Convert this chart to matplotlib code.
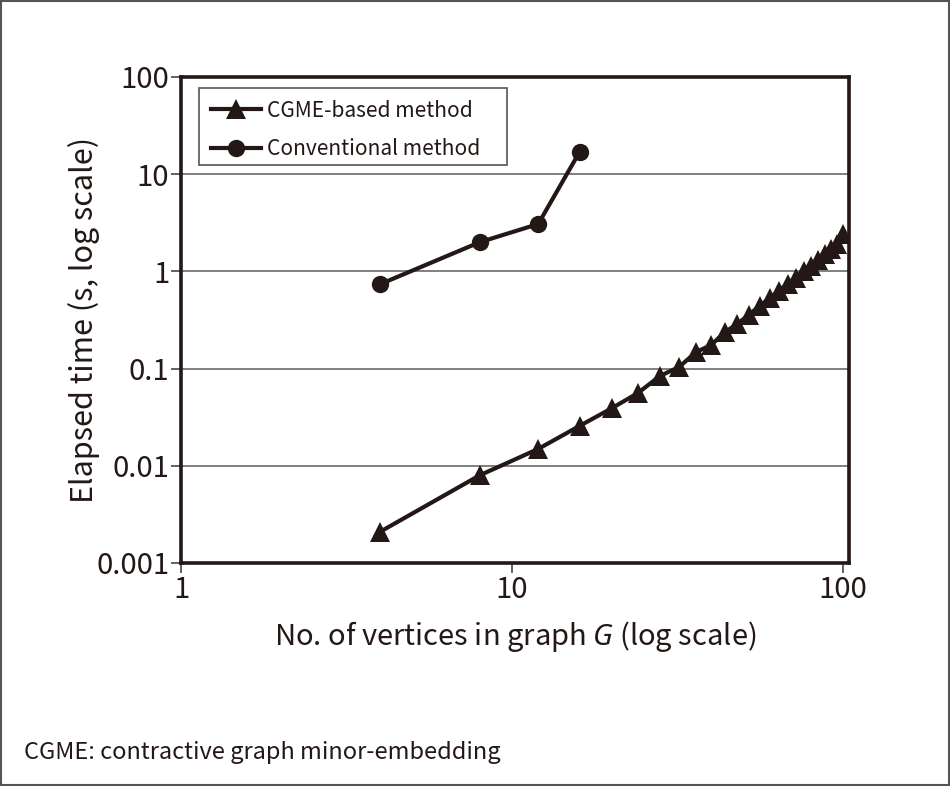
import matplotlib
matplotlib.use("Agg")
import matplotlib.pyplot as plt
from matplotlib.patches import Rectangle

plt.rcParams['font.family'] = ['Noto Sans CJK JP', 'DejaVu Sans']
plt.rcParams['mathtext.fontset'] = 'custom'
plt.rcParams['mathtext.it'] = 'Noto Sans:italic'
plt.rcParams['mathtext.rm'] = 'Noto Sans CJK JP'

# Data
cgme_x = [4, 8, 12, 16, 20, 24, 28, 32, 36, 40, 44, 48, 52, 56, 60, 64, 68, 72, 76, 80, 84, 88, 92, 96, 100]
cgme_y = [0.0021, 0.008, 0.0149, 0.0257, 0.039, 0.056, 0.084, 0.104, 0.148, 0.175, 0.238, 0.288, 0.36,
          0.44, 0.53, 0.63, 0.74, 0.86, 1.0, 1.15, 1.32, 1.5, 1.7, 1.92, 2.4]
conv_x = [4, 8, 12, 16]
conv_y = [0.74, 2.0, 3.07, 16.9]

xticks = [1, 10, 100]
xticklabels = ['1', '10', '100']
yticks = [0.001, 0.01, 0.1, 1, 10, 100]
yticklabels = ['0.001', '0.01', '0.1', '1', '10', '100']

ink = '#231815'

fig = plt.figure(figsize=(9.5, 7.86), dpi=100)
ax = fig.add_axes([181/950, 1-563/786, (849-181)/950, 486/786])

ax.plot(cgme_x, cgme_y, color=ink, lw=3.0, marker='^', markersize=14, markeredgewidth=0,
        label='CGME-based method', zorder=3)
ax.plot(conv_x, conv_y, color=ink, lw=3.0, marker='o', markersize=12.5, markeredgewidth=0,
        label='Conventional method', zorder=3)

ax.set_xscale('log')
ax.set_yscale('log')
ax.set_xlim(1, 104.3)
ax.set_ylim(0.001, 100)
ax.set_xticks(xticks)
ax.set_xticklabels(xticklabels)
ax.set_yticks(yticks)
ax.set_yticklabels(yticklabels)
ax.minorticks_off()
ax.tick_params(axis='both', which='major', direction='out', length=7, width=1.3,
               color='#555555', labelsize=21, labelcolor=ink, pad=1.5)

ax.yaxis.grid(True, color='#808080', lw=1.4)
ax.set_axisbelow(True)
for s in ax.spines.values():
    s.set_color(ink)
    s.set_linewidth(2.6)

ax.set_xlabel('No. of vertices in graph $G$ (log scale)', fontsize=21, color=ink, labelpad=10)
ax.set_ylabel('Elapsed time (s, log scale)', fontsize=22, color=ink, labelpad=-2.5)

# legend frame drawn separately
ax.add_patch(Rectangle((0.0269, 0.819), 0.4611, 0.1584, transform=ax.transAxes,
                       fill=True, facecolor='white', edgecolor='#555555', lw=1.2, zorder=4))
leg = ax.legend(loc='upper left', bbox_to_anchor=(0.0269, 0.9774), borderaxespad=0,
                fontsize=15.1, frameon=False, handlelength=2.4,
                handletextpad=0.3, labelspacing=0.78, borderpad=0.55)
leg.set_zorder(5)
for t in leg.get_texts():
    t.set_color(ink)

fig.text(24/950, 1-753/786, 'CGME: contractive graph minor-embedding', fontsize=17,
         color=ink, ha='left', va='center')

fig.patches.append(Rectangle((0.001, 0.001), 0.998, 0.998, transform=fig.transFigure,
                             fill=False, edgecolor='#555555', lw=1.5))

fig.savefig('out.png', dpi=100)
